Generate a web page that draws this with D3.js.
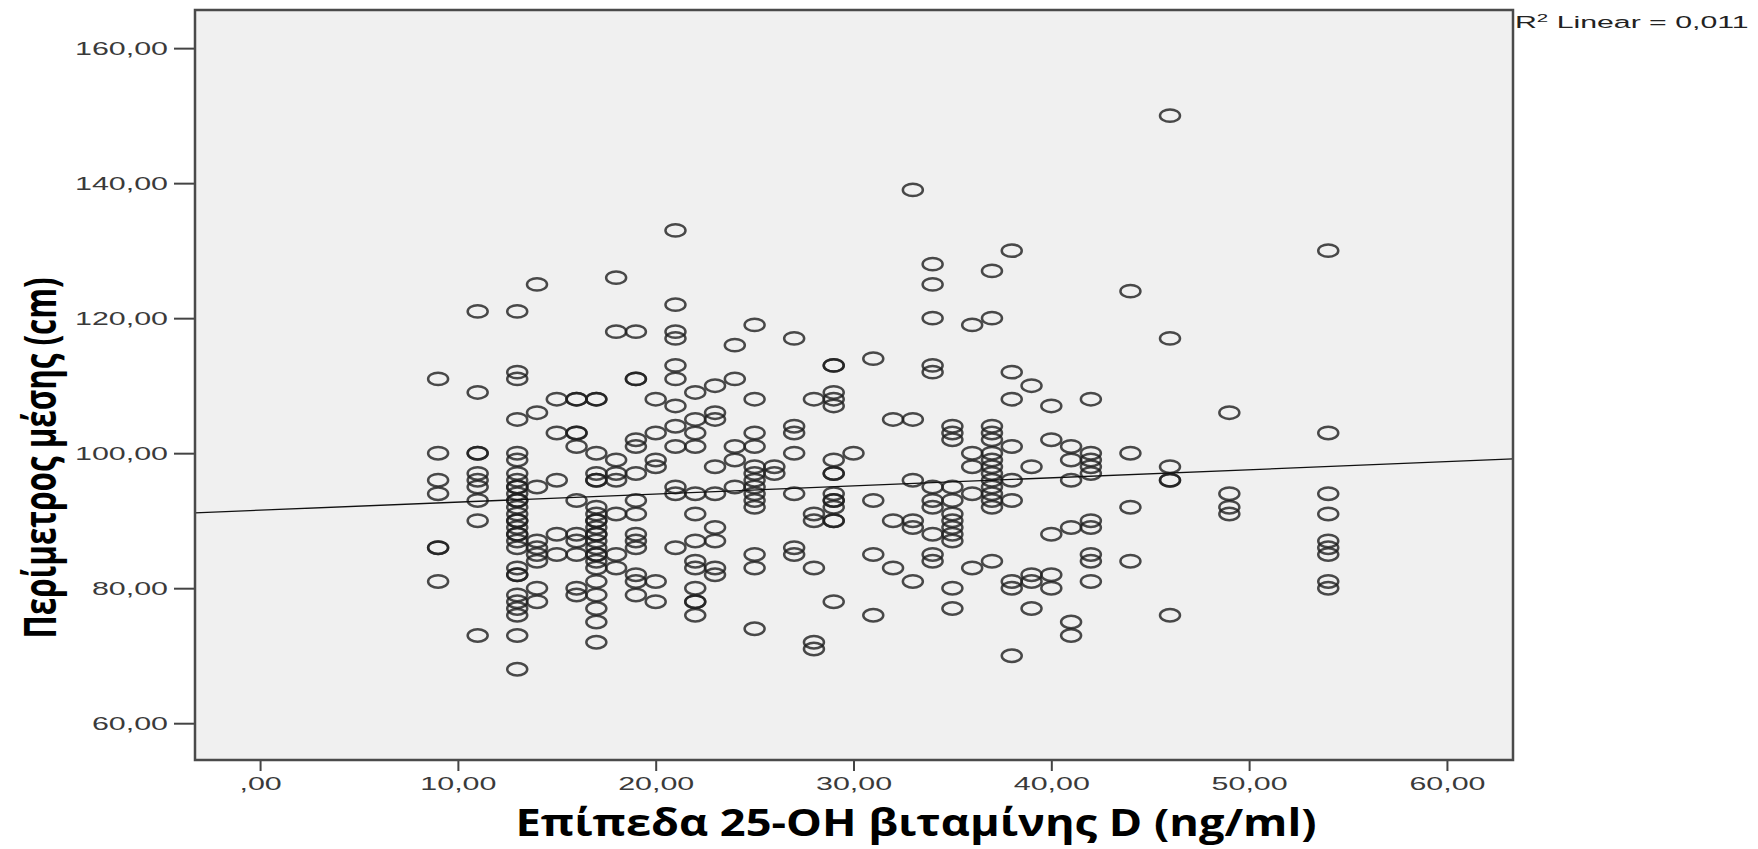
<!DOCTYPE html>
<html>
<head>
<meta charset="utf-8">
<script src="https://cdn.jsdelivr.net/npm/d3@7"></script>
<style>
  body { margin: 0; background: #fff; }
  svg { display: block; }
</style>
</head>
<body>
<div id="chart"></div>
<script>
// vitamin D level (x) and the waist values read at that level
const vitaminLevels = [9, 11, 13, 14, 15, 16, 17, 18, 19, 20, 21, 22, 23, 24, 25, 26, 27, 28,
  29, 30, 31, 32, 33, 34, 35, 36, 37, 38, 39, 40, 41, 42, 44, 46, 49, 54];
const waistByLevel = [
  [111, 100, 96, 94, 86, 86, 81],
  [121, 109, 100, 100, 97, 96, 95, 93, 90, 73],
  [121, 112, 111, 105, 100, 99, 97, 96, 95, 95, 94, 93, 93, 92, 91, 90, 90, 89, 88, 88, 87, 86, 83, 82, 82, 79, 78, 77, 76, 73, 68],
  [125, 106, 95, 87, 86, 85, 84, 80, 78],
  [108, 103, 96, 88, 85],
  [108, 108, 103, 103, 101, 93, 88, 87, 85, 80, 79],
  [108, 108, 100, 97, 96, 96, 92, 91, 90, 90, 89, 88, 88, 87, 86, 85, 85, 84, 83, 81, 79, 77, 75, 72],
  [126, 118, 99, 97, 96, 91, 85, 83],
  [118, 111, 111, 102, 101, 97, 93, 91, 88, 87, 86, 82, 81, 79],
  [108, 103, 99, 98, 81, 78],
  [133, 122, 118, 117, 113, 111, 107, 104, 101, 95, 94, 86],
  [109, 105, 103, 101, 94, 91, 87, 84, 83, 80, 78, 78, 76],
  [110, 106, 105, 98, 94, 89, 87, 83, 82],
  [116, 111, 101, 99, 95],
  [119, 108, 103, 101, 98, 97, 96, 95, 94, 93, 92, 85, 83, 74],
  [98, 97],
  [117, 104, 103, 100, 94, 86, 85],
  [108, 91, 90, 83, 72, 71],
  [113, 113, 109, 108, 107, 99, 97, 97, 94, 93, 93, 92, 90, 90, 78],
  [100],
  [114, 93, 85, 76],
  [105, 90, 83],
  [139, 105, 96, 90, 89, 81],
  [128, 125, 120, 113, 112, 95, 93, 92, 88, 85, 84],
  [104, 103, 102, 95, 93, 91, 90, 89, 88, 87, 80, 77],
  [119, 100, 98, 94, 83],
  [127, 120, 104, 103, 102, 100, 99, 98, 97, 96, 95, 94, 93, 92, 84],
  [130, 112, 108, 101, 96, 93, 81, 80, 70],
  [110, 98, 82, 81, 77],
  [107, 102, 88, 82, 80],
  [101, 99, 96, 89, 75, 73],
  [108, 100, 99, 98, 97, 90, 89, 85, 84, 81],
  [124, 100, 92, 84],
  [150, 117, 98, 96, 96, 76],
  [106, 94, 92, 91],
  [130, 103, 94, 91, 87, 86, 85, 81, 80]
];
const xTicks = [0, 10, 20, 30, 40, 50, 60];
const yTicks = [60, 80, 100, 120, 140, 160];
// fit line as shown in the picture
const fitIntercept = 91.55;
const fitSlope = 0.12;
const rSquaredText = "0,011";
const xTitle = "Επίπεδα 25-ΟΗ βιταμίνης D (ng/ml)";
const yTitle = "Περίμετρος μέσης (cm)";

const width = 1758, height = 849;
const frame = { left: 195, top: 10, right: 1513, bottom: 760 };
const stretch = 1.6; // the original picture is stretched sideways

const points = vitaminLevels.flatMap((v, i) => waistByLevel[i].map(w => ({ v, w })));

const svg = d3.select("#chart").append("svg")
    .attr("width", width)
    .attr("height", height);

const x = d3.scaleLinear().domain([-3.29, 63.34]).range([frame.left, frame.right]);
const y = d3.scaleLinear().domain([54.55, 165.65]).range([frame.bottom, frame.top]);

const fmt = v => v === 0 ? ",00" : d3.format(".2f")(v).replace(".", ",");

// widen a text sideways like the source picture
function widen(sel, factor) {
    sel.each(function () {
        const w = this.getComputedTextLength();
        d3.select(this)
            .attr("textLength", w * factor)
            .attr("lengthAdjust", "spacingAndGlyphs");
    });
}

svg.append("rect")
    .attr("x", frame.left).attr("y", frame.top)
    .attr("width", frame.right - frame.left)
    .attr("height", frame.bottom - frame.top)
    .attr("fill", "#f0f0f0");

// axes
const yAxis = svg.append("g")
    .attr("transform", `translate(${frame.left},0)`)
    .call(d3.axisLeft(y).tickValues(yTicks).tickSize(21).tickFormat(fmt));
yAxis.select(".domain").remove();
yAxis.selectAll(".tick line").attr("stroke", "#444").attr("stroke-width", 2);
yAxis.selectAll(".tick text")
    .attr("x", -27)
    .attr("fill", "#3a3a3a")
    .style("font", "19px 'Liberation Sans', Arial, sans-serif")
    .call(widen, stretch);

const xAxis = svg.append("g")
    .attr("transform", `translate(0,${frame.bottom})`)
    .call(d3.axisBottom(x).tickValues(xTicks).tickSize(11).tickFormat(fmt));
xAxis.select(".domain").remove();
xAxis.selectAll(".tick line").attr("stroke", "#444").attr("stroke-width", 2);
xAxis.selectAll(".tick text")
    .attr("y", 17)
    .attr("fill", "#3a3a3a")
    .style("font", "19px 'Liberation Sans', Arial, sans-serif")
    .call(widen, stretch);

// points
const plot = svg.append("g");
plot.selectAll("ellipse")
    .data(points)
    .join("ellipse")
    .attr("cx", d => x(d.v))
    .attr("cy", d => y(d.w))
    .attr("rx", 10)
    .attr("ry", 6.2)
    .attr("fill", "none")
    .attr("stroke", "#1e1e1e")
    .attr("stroke-opacity", 0.8)
    .attr("stroke-width", 2.5);

// fit line across the frame
const [x0, x1] = x.domain();
plot.append("line")
    .attr("x1", x(x0)).attr("y1", y(fitIntercept + fitSlope * x0))
    .attr("x2", x(x1)).attr("y2", y(fitIntercept + fitSlope * x1))
    .attr("stroke", "#111")
    .attr("stroke-width", 1.3);

// frame border
svg.append("rect")
    .attr("x", frame.left).attr("y", frame.top)
    .attr("width", frame.right - frame.left)
    .attr("height", frame.bottom - frame.top)
    .attr("fill", "none")
    .attr("stroke", "#4a4a4a")
    .attr("stroke-width", 2.5);

// R² label
const r2 = svg.append("text")
    .attr("transform", `translate(${frame.right + 2},28) scale(1.78,1)`)
    .attr("fill", "#222")
    .style("font", "17px 'Liberation Sans', Arial, sans-serif");
r2.append("tspan").text("R");
r2.append("tspan").attr("dy", -6).attr("font-size", 11.5).text("2");
r2.append("tspan").attr("dy", 6).text(` Linear = ${rSquaredText}`);

// titles
svg.append("text")
    .attr("x", 916).attr("y", 836)
    .attr("text-anchor", "middle")
    .attr("textLength", 801)
    .attr("lengthAdjust", "spacingAndGlyphs")
    .style("font", "bold 38px 'Open Sans', sans-serif")
    .attr("fill", "#000")
    .text(xTitle);

svg.append("text")
    .attr("transform", "translate(56,458) rotate(-90)")
    .attr("text-anchor", "middle")
    .attr("textLength", 361)
    .attr("lengthAdjust", "spacingAndGlyphs")
    .style("font", "bold 44px 'Open Sans', sans-serif")
    .attr("fill", "#000")
    .text(yTitle);
</script>
</body>
</html>
